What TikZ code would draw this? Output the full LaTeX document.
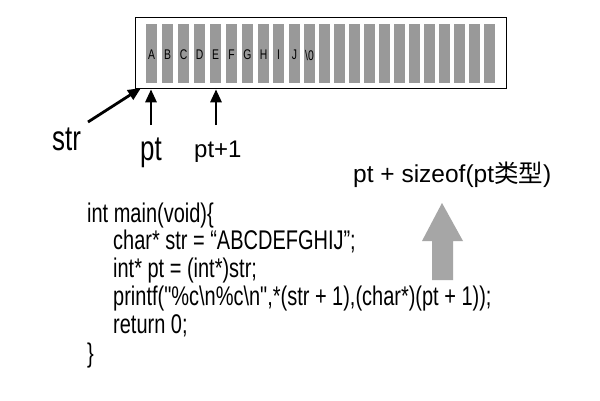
\documentclass[tikz,border=0pt]{standalone}
\usepackage{fontspec}
\setmainfont{Liberation Sans}
\newfontfamily\condfont{Liberation Sans}[FakeStretch=0.74]
\newfontfamily\cjkfont{Noto Sans CJK SC}
\usetikzlibrary{arrows.meta}
\definecolor{bargray}{RGB}{153,153,153}
\definecolor{arrowgray}{RGB}{166,166,166}
\begin{document}
\begin{tikzpicture}[x=1pt,y=-1pt,
  cell/.style={fill=bargray, minimum width=11pt, minimum height=59pt, inner sep=0pt, outer sep=0pt, anchor=north west},
  letter/.style={inner sep=0pt, font=\condfont\fontsize{14}{14}\selectfont},
  code/.style={anchor=base west, inner sep=0pt, font=\condfont\fontsize{27}{28}\selectfont},
  biglabel/.style={anchor=base west, inner sep=0pt, font=\condfont\fontsize{35}{36}\selectfont},
  midlabel/.style={anchor=base west, inner sep=0pt, font=\fontsize{24}{26}\selectfont},
  pointer/.style={line width=2.8pt, -{Triangle[length=13pt,width=11pt]}}]
\useasboundingbox[fill=white] (0,0) rectangle (600,400);
% memory block
\node[draw, line width=1.3pt, minimum width=371pt, minimum height=71pt, inner sep=0pt, anchor=north west] (mem) at (135,17) {};
\foreach \x [count=\i] in {146,162,178,194,210,226,242,258,273,289,304,319,334,349,364,379,394,409,424,439,454,469,484}
  \node[cell] (b\i) at (\x,24) {};
\foreach \l [count=\i] in {A,B,C,D,E,F,G,H,I,J}
  \node[letter] (l\i) at ([yshift=-1.5pt]b\i.center) {\l};
\node[letter] (l11) at ([yshift=-1.5pt]b11.center) {\textbackslash 0};
% labels
\node[biglabel] (str) at (52,150) {str};
\node[biglabel] (pt) at (140,160) {pt};
\node[midlabel] (pt1) at (194,157) {pt+1};
\node[midlabel, font=\fontsize{24.5}{26}\selectfont] (size) at (353,182) {pt + sizeof(pt{\cjkfont 类型})};
% pointers
\coordinate (strTail) at (88,122);
\coordinate (strTip) at (141,88);
\coordinate (ptTail) at (151,125);
\coordinate (pt1Tail) at (216,125);
\draw[pointer] (strTail) -- (strTip);
\draw[pointer] (ptTail) -- (ptTail |- mem.south);
\draw[pointer] (pt1Tail) -- (pt1Tail |- mem.south);
% big gray arrow
\fill[arrowgray] (432,280) -- (453,280) -- (453,241) -- (463,241) -- (442,203) -- (422,241) -- (432,241) -- cycle;
% code
\node[code] (c1) at (87,222) {int main(void)\{};
\node[code] (c2) at (113,249) {char* str = “ABCDEFGHIJ”;};
\node[code] (c3) at (113,277) {int* pt = (int*)str;};
\node[code] (c4) at (113,305) {printf("\%c\textbackslash n\%c\textbackslash n",*(str + 1),(char*)(pt + 1));};
\node[code] (c5) at (113,333) {return 0;};
\node[code] (c6) at (87,362) {\}};
\end{tikzpicture}
\end{document}
